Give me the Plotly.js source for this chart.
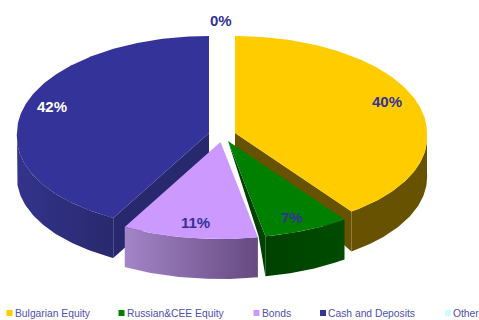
<!DOCTYPE html>
<html>
<head>
<meta charset="utf-8">
<script src="https://cdn.plot.ly/plotly-3.0.1.min.js"></script>
<style>html,body{margin:0;padding:0;background:#fff}#chart{width:479px;height:320px}</style>
</head>
<body>
<div id="chart"></div>
<script>
// Portfolio allocation, percent of total
const categories = ["Bulgarian Equity", "Russian&CEE Equity", "Bonds", "Cash and Deposits", "Other"];
const shares = [40, 7, 11, 42, 0];

// Palette for the top faces and legend swatches
const topColors = ["#FFCC00", "#008000", "#CC99FF", "#333399", "#CCFFFF"];
const labelColors = ["#333399", "#333399", "#333399", "#FFFFFF", "#333399"];

// Pie geometry on a pixel-scaled axis pair
const RX = 192, RY = 97, DEPTH = 40, PERSPECTIVE = 0.04;
const hubs = [[235, 133], [228, 141], [220.5, 142], [209, 133], [221, 133]];
const labelSpots = [[387, 101], [292, 217], [195, 222], [52, 106], [221, 20]];

// Colours of the outer rim, left to right
const rimColors = [
  ["#665200", "#665200"],
  ["#004000", "#004C00"],
  ["#A385C8", "#664A80"],
  ["#33338C", "#29296E"]
];
const cutColors = ["#665200", "#004000", null, "#28286E"];

function rimPoint(hub, deg) {
  const t = deg * Math.PI / 180;
  const front = -Math.cos(t);
  return [hub[0] + RX * Math.sin(t) * (1 + PERSPECTIVE * Math.max(0, front)), hub[1] + RY * front];
}
function arc(hub, from, to) {
  const pts = [];
  const n = Math.max(2, Math.ceil(Math.abs(to - from)));
  for (let i = 0; i <= n; i++) pts.push(rimPoint(hub, from + (to - from) * i / n));
  return pts;
}
function polygon(pts, color) {
  return {
    type: "scatter", mode: "lines", fill: "toself", fillcolor: color,
    x: pts.map(p => p[0]).concat([pts[0][0]]),
    y: pts.map(p => p[1]).concat([pts[0][1]]),
    line: { width: 0, color: color }, hoverinfo: "skip", showlegend: false
  };
}

// Slice angular spans, clockwise from twelve o'clock
const total = shares.reduce((a, b) => a + b, 0);
let running = 0;
const spans = shares.map(v => { const s = [running, running + v]; running += v; return s.map(p => p / total * 360); });

const traces = [];
[3, 0, 1, 2].forEach(i => {
  const hub = hubs[i], [a, b] = spans[i];

  // Outer rim: only the part facing the viewer
  const upper = arc(hub, Math.max(a, 90), Math.min(b, 270));
  const lower = upper.map(p => [p[0], p[1] + DEPTH]).reverse();
  const xs = upper.map(p => p[0]);
  const rim = polygon(upper.concat(lower), rimColors[i][0]);
  rim.fillgradient = {
    type: "horizontal",
    colorscale: [[0, rimColors[i][0]], [1, rimColors[i][1]]],
    start: Math.min(...xs), stop: Math.max(...xs)
  };

  // Cut face exposed by the pulled-apart slices
  let cut = null;
  if (i === 0) {
    const edge = rimPoint(hub, b);
    cut = polygon([hub, edge, [edge[0], edge[1] + DEPTH], [hub[0], hub[1] + 17]], cutColors[i]);
  } else if (i === 3) {
    const edge = rimPoint(hub, a);
    cut = polygon([hub, edge, [edge[0], edge[1] + DEPTH], [hub[0], hub[1] + DEPTH]], cutColors[i]);
  } else if (i === 1) {
    const edge = rimPoint(hub, b);
    const foot = [hub[0] + (edge[0] - hub[0]) * 0.82, edge[1]];
    cut = polygon([hub, edge, [edge[0], edge[1] + DEPTH], foot], cutColors[i]);
  }
  if (i === 1) { traces.push(rim); traces.push(cut); }
  else { if (cut) traces.push(cut); traces.push(rim); }

  // Top face
  traces.push(polygon([hub].concat(arc(hub, a, b)), topColors[i]));
});

// Legend swatches
const legendSwatchX = [9.5, 121.5, 256.5, 323, 448];
const legendTextX = [14.5, 126.5, 261.5, 327.5, 452.5];
const LEGEND_Y = 313;
traces.push({
  type: "scatter", mode: "markers", x: legendSwatchX, y: categories.map(() => LEGEND_Y),
  marker: { symbol: "square", size: 6, color: topColors, line: { width: 0 } },
  hoverinfo: "skip", showlegend: false
});

const annotations = shares.map((v, i) => ({
  x: labelSpots[i][0], y: labelSpots[i][1], text: "<b>" + v + "%</b>", showarrow: false,
  xanchor: "center", yanchor: "middle",
  font: { family: "Liberation Sans, Arial, sans-serif", size: 15, color: labelColors[i] }
})).concat(categories.map((c, i) => ({
  x: legendTextX[i], y: LEGEND_Y, text: c, showarrow: false, xanchor: "left", yanchor: "middle",
  xshift: -2,
  font: { family: "Liberation Sans, Arial, sans-serif", size: 10.3, color: "#4F4FAE" }
})));

const hiddenAxis = { visible: false, showgrid: false, zeroline: false, fixedrange: true };
Plotly.newPlot("chart", traces, {
  width: 479, height: 320,
  margin: { l: 0, r: 0, t: 0, b: 0 },
  paper_bgcolor: "#FFFFFF", plot_bgcolor: "#FFFFFF",
  xaxis: Object.assign({ range: [0, 479] }, hiddenAxis),
  yaxis: Object.assign({ range: [320, 0] }, hiddenAxis),
  showlegend: false,
  annotations: annotations
}, { displayModeBar: false, staticPlot: true });
</script>
</body>
</html>
